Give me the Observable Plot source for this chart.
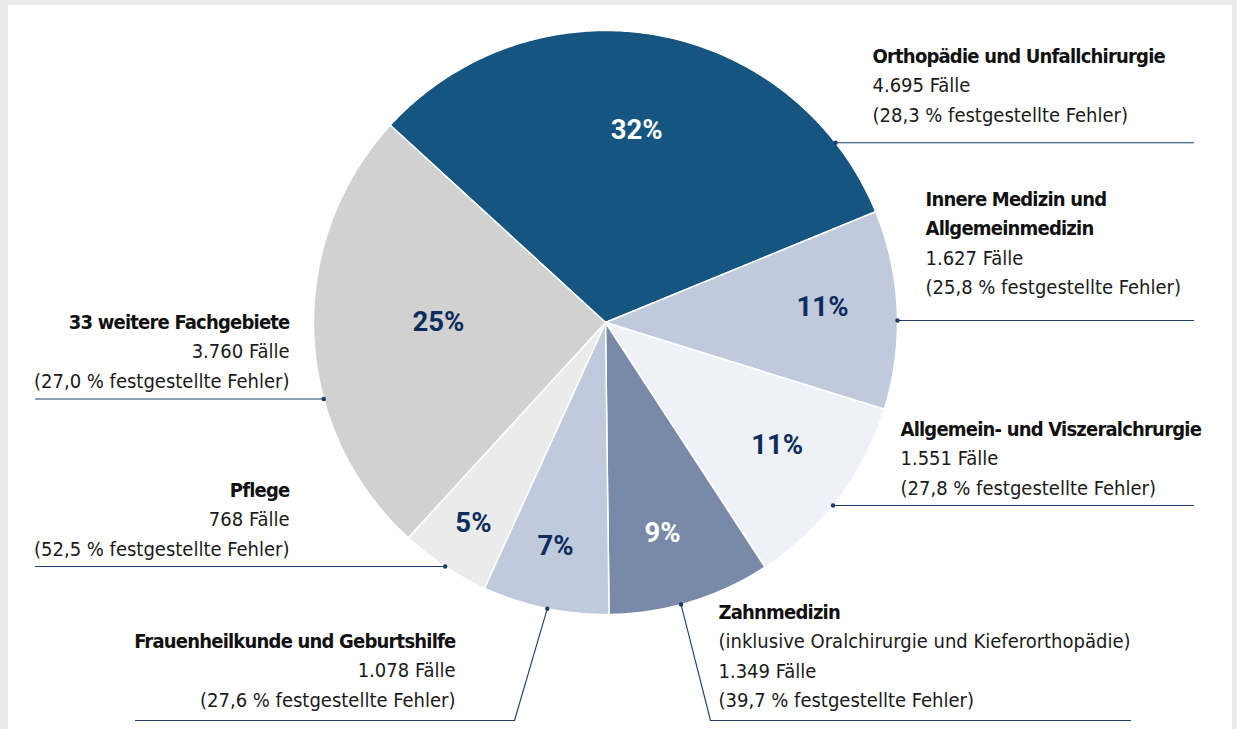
<!DOCTYPE html>
<html><head><meta charset="utf-8">
<script src="https://cdn.jsdelivr.net/npm/d3@7"></script>
<script src="https://cdn.jsdelivr.net/npm/@observablehq/plot@0.6"></script>
<style>
html,body{margin:0;padding:0;background:#ebebeb;width:1237px;height:729px;overflow:hidden;}
#chart{position:absolute;left:8px;top:5px;width:1224px;height:724px;background:#fff;}
#chart g[font-weight="700"] text{letter-spacing:-0.8px;}
</style></head><body><div id="chart"></div>
<script>
// ---- data ----
const titleLines = [
  ["Orthopädie und Unfallchirurgie"],
  ["Innere Medizin und", "Allgemeinmedizin"],
  ["Allgemein- und Viszeralchrurgie"],
  ["Zahnmedizin"],
  ["Frauenheilkunde und Geburtshilfe"],
  ["Pflege"],
  ["33 weitere Fachgebiete"]
];
const notes = [null, null, null, "(inklusive Oralchirurgie und Kieferorthopädie)", null, null, null];
const caseLabels = ["4.695", "1.627", "1.551", "1.349", "1.078", "768", "3.760"];
const errorRates = ["28,3", "25,8", "27,8", "39,7", "27,6", "52,5", "27,0"];
const shares = [32, 11, 11, 9, 7, 5, 25];   // percent of cases, as drawn in the pie

// ---- styles / layout ----
const sliceColors = ["#15557f", "#bfcadd", "#eef2f8", "#788aa8", "#bfcadd", "#ebebeb", "#d0d1d0"];
const shareColors = ["#ffffff", "#0f2d5c", "#0f2d5c", "#ffffff", "#0f2d5c", "#0f2d5c", "#0f2d5c"];
const center = [605, 322], R = 292, startDeg = -47.5;
// percent label placement: [angle deg, radius fraction]
const shareLayout = [[9.2, 0.666], [86, 0.745], [125.6, 0.723], [164.9, 0.749], [192.6, 0.786], [213.3, 0.824], [270, 0.572]];
// text block: x, first line y, anchor
const textLayout = [
  [872, 56, "start"], [925, 199, "start"], [900, 429, "start"], [718, 612, "start"],
  [455, 641, "end"], [289, 490, "end"], [289, 322, "end"]
];
// leaders: anchor angle on rim, following points
const leaderLayout = [
  [52, [[1193, null]]],
  [89.6, [[1193, null]]],
  [128.8, [[1193, null]]],
  [165, [[710, 720], [1130, 720]]],
  [191.5, [[514, 720], [135, 720]]],
  [213.3, [[35, null]]],
  [254.8, [[35, null]]]
];
const lineH = 29.5;
const rad = d => d * Math.PI / 180;
const pt = (a, r) => [center[0] + r * Math.sin(a), center[1] - r * Math.cos(a)];

// ---- pie geometry via d3.pie ----
const arcs = d3.pie().sort(null).value(d => d)
  .startAngle(rad(startDeg)).endAngle(rad(startDeg) + 2 * Math.PI)(shares);
const poly = [];
arcs.forEach((a, i) => {
  poly.push({i, x: center[0], y: center[1], c: sliceColors[i]});
  const n = Math.max(8, Math.ceil((a.endAngle - a.startAngle) / rad(0.5)));
  for (let k = 0; k <= n; k++) {
    const ang = a.startAngle + (a.endAngle - a.startAngle) * k / n;
    const [x, y] = pt(ang, R);
    poly.push({i, x, y, c: sliceColors[i]});
  }
  poly.push({i, x: center[0], y: center[1], c: sliceColors[i]});
});

const shareRows = shares.map((v, i) => {
  const [x, y] = pt(rad(shareLayout[i][0]), R * shareLayout[i][1]);
  return {x, y, t: v + "%", c: shareColors[i]};
});

const leaders = [], dots = [];
leaderLayout.forEach(([ang, rest], i) => {
  const [x0, y0] = pt(rad(ang), R);
  dots.push({x: x0, y: y0});
  leaders.push({i, x: x0, y: y0});
  rest.forEach(([x, y]) => leaders.push({i, x, y: y == null ? y0 : y}));
});

const font = "'Liberation Sans Narrow','DejaVu Sans Condensed','Roboto Condensed',sans-serif";
const textMarks = [];
titleLines.forEach((tl, i) => {
  const [tx, ty, anchor] = textLayout[i];
  const lines = [];
  tl.forEach(t => lines.push({t, b: true}));
  if (notes[i]) lines.push({t: notes[i], b: false});
  lines.push({t: caseLabels[i] + " Fälle", b: false});
  lines.push({t: "(" + errorRates[i] + " % festgestellte Fehler)", b: false});
  const rows = lines.map((l, k) => ({x: tx, y: ty + k * lineH, t: l.t, b: l.b}));
  textMarks.push(Plot.text(rows.filter(r => r.b), {x: "x", y: "y", text: "t", textAnchor: anchor,
    fontFamily: font, fontSize: 20, fontWeight: 700, fill: "#111"}));
  textMarks.push(Plot.text(rows.filter(r => !r.b), {x: "x", y: "y", text: "t", textAnchor: anchor,
    fontFamily: font, fontSize: 20, fontWeight: "normal", fill: "#1a1a1a"}));
});

const chart = Plot.plot({
  width: 1224, height: 724, margin: 0,
  x: {domain: [8, 1232], range: [0, 1224], axis: null},
  y: {domain: [5, 729], range: [0, 724], axis: null},
  color: {type: "identity"},
  style: {background: "white", overflow: "visible"},
  marks: [
    Plot.line(poly, {x: "x", y: "y", z: "i", fill: "c", stroke: "white", strokeWidth: 1.5, curve: "linear"}),
    Plot.text(shareRows, {x: "x", y: "y", text: "t", fill: "c", fontSize: 27.5, fontWeight: "bold", fontFamily: "Roboto, 'Open Sans', sans-serif"}),
    Plot.line(leaders, {x: "x", y: "y", z: "i", stroke: "#1d3c6c", strokeWidth: 1.1}),
    Plot.dot(dots, {x: "x", y: "y", r: 2.2, fill: "#1d3c6c", stroke: null}),
    ...textMarks
  ]
});
document.getElementById("chart").appendChild(chart);
</script></body></html>
